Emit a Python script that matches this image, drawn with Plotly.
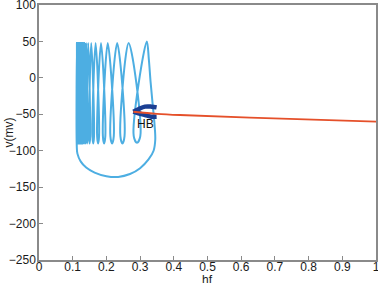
import plotly.graph_objects as go

# ---- spiking part of the trajectory ----
peak_hf = [0.320, 0.266, 0.232, 0.204, 0.184, 0.168, 0.155, 0.146, 0.140, 0.136,
           0.1325, 0.1295, 0.127, 0.125, 0.1232, 0.1217, 0.1204, 0.1192, 0.1182, 0.1173,
           0.1165, 0.1158, 0.1152, 0.1146, 0.1141, 0.1136, 0.1132, 0.1128, 0.1125]
peak_v = [50, 48, 48, 48, 48, 48, 48, 48, 48, 48,
          48, 48, 48, 48, 48, 48, 48, 48, 48, 48,
          48, 48, 48, 48, 48, 48, 48, 48, 48]
trough_left_hf = [0.2811, 0.2415, 0.2118, 0.1896, 0.1725, 0.1586, 0.1485, 0.1417, 0.1371, 0.1335,
                  0.1303, 0.1277, 0.1256, 0.1237, 0.1221, 0.1208, 0.1195, 0.1185, 0.1176, 0.1167,
                  0.1160, 0.1154, 0.1148, 0.1142, 0.1137, 0.1133, 0.1129, 0.1126]
trough_hf = [0.2908, 0.2476, 0.2169, 0.1932, 0.1754, 0.1610, 0.1501, 0.1428, 0.1378, 0.1341,
             0.1309, 0.1282, 0.1259, 0.1240, 0.1224, 0.1210, 0.1198, 0.1187, 0.1177, 0.1169,
             0.1161, 0.1155, 0.1149, 0.1143, 0.1138, 0.1134, 0.1130, 0.1127]
trough_right_hf = [0.3006, 0.2538, 0.2219, 0.1968, 0.1782, 0.1633, 0.1518, 0.1438, 0.1386, 0.1347,
                   0.1314, 0.1286, 0.1263, 0.1244, 0.1227, 0.1212, 0.1200, 0.1188, 0.1179, 0.1170,
                   0.1162, 0.1156, 0.1150, 0.1144, 0.1139, 0.1135, 0.1131, 0.1127]
trough_side_v = [-80] * 28
trough_v = [-89] + [-90] * 27

# ---- hyperpolarised return arc ----
arc_hf = [0.112, 0.114, 0.124, 0.140, 0.165, 0.200, 0.235, 0.270, 0.300, 0.325, 0.340, 0.345,
          0.343, 0.337, 0.331, 0.326]
arc_v = [-92, -104, -115, -123, -130, -135, -136, -132, -124, -112, -100, -85,
         -65, -35, -5, 25]

# ---- Hopf branch (dark blue) ----
hb_upper_hf = [0.349, 0.334, 0.3145, 0.295, 0.280]
hb_upper_v = [-40.5, -39.5, -39.5, -43.0, -46.4]
hb_lower_hf = [0.280, 0.295, 0.3145, 0.334, 0.349]
hb_lower_v = [-46.4, -48.6, -51.0, -53.3, -53.5]

# ---- equilibrium branch (red) ----
eq_hf = [0.280, 0.350, 0.418, 0.626, 1.000]
eq_v = [-46.5, -49.3, -51.0, -54.6, -60.2]

x_ticks = [0, 0.1, 0.2, 0.3, 0.4, 0.5, 0.6, 0.7, 0.8, 0.9, 1]
x_labels = ["0", "0.1", "0.2", "0.3", "0.4", "0.5", "0.6", "0.7", "0.8", "0.9", "1"]
y_ticks = [-250, -200, -150, -100, -50, 0, 50, 100]

# assemble closed trajectory from the read key points
path_hf, path_v = [], []
for i in range(len(trough_hf)):
    path_hf += [peak_hf[i], trough_left_hf[i], trough_hf[i], trough_right_hf[i]]
    path_v += [peak_v[i], trough_side_v[i], trough_v[i], trough_side_v[i]]
path_hf.append(peak_hf[-1]); path_v.append(peak_v[-1])
path_hf += arc_hf + [peak_hf[0]]
path_v += arc_v + [peak_v[0]]

light_blue = "#4DAEE2"
dark_blue = "#1B3F93"
red = "#E5502A"

fig = go.Figure()
fig.add_trace(go.Scatter(x=path_hf, y=path_v, mode="lines",
                         line=dict(color=light_blue, width=2, shape="spline", smoothing=1),
                         hoverinfo="skip"))
fig.add_trace(go.Scatter(x=hb_upper_hf, y=hb_upper_v, mode="lines",
                         line=dict(color=dark_blue, width=4.5, shape="spline")))
fig.add_trace(go.Scatter(x=hb_lower_hf, y=hb_lower_v, mode="lines",
                         line=dict(color=dark_blue, width=4.5, shape="spline")))
fig.add_trace(go.Scatter(x=eq_hf, y=eq_v, mode="lines",
                         line=dict(color=red, width=1.8, shape="spline")))

font = dict(family="Liberation Sans, Arial, sans-serif", size=12, color="#1a1a1a")
axis_common = dict(showline=True, mirror=True, linecolor="#8a8a8a", linewidth=1.5,
                   ticks="inside", ticklen=4, tickcolor="#8a8a8a", tickwidth=1,
                   showgrid=False, zeroline=False, tickfont=font, automargin=False,
                   ticklabeloverflow="allow")

fig.update_layout(
    width=378, height=283,
    margin=dict(l=39, r=2, t=5, b=23),
    paper_bgcolor="white", plot_bgcolor="white",
    showlegend=False,
    xaxis=dict(range=[0, 1], tickvals=x_ticks, ticktext=x_labels, ticklabelstandoff=-5,
               **axis_common),
    yaxis=dict(range=[-250, 100], tickvals=y_ticks, ticklabelstandoff=-1, **axis_common),
    annotations=[
        dict(text="hf", x=0.5, y=0, xref="paper", yref="paper", yshift=-11, yanchor="top",
             showarrow=False, font=font),
        dict(text="HB", x=0.315, y=-63, xref="x", yref="y", showarrow=False,
             font=dict(family="Liberation Sans, Arial, sans-serif", size=12, color="#111")),
        dict(text="v(mv)", x=0, y=0.5, xref="paper", yref="paper", xshift=-31, textangle=-90,
             xanchor="center", showarrow=False, font=font),
    ],
)

fig.write_html("out.html", config={"displayModeBar": False},
               post_script="document.body.style.margin='0';document.body.style.padding='0';")
